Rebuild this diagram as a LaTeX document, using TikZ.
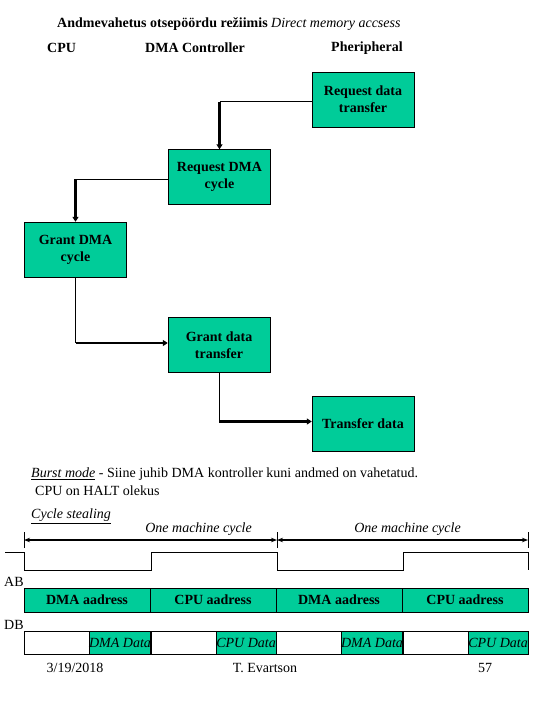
\documentclass[tikz,border=0pt]{standalone}
\usepackage{fontspec}
\setmainfont{Liberation Serif}
\usetikzlibrary{arrows.meta}
\definecolor{dmagreen}{RGB}{0,204,153}

\begin{document}
\begin{tikzpicture}[
    x=1pt, y=-1pt,
    font=\fontsize{14}{16}\selectfont,
    box/.style={draw, fill=dmagreen, minimum width=102pt, minimum height=55pt,
      align=center, inner sep=2pt, font=\fontsize{14}{17}\selectfont\bfseries},
    lbl/.style={inner sep=0pt, anchor=west},
    ln/.style={line width=0.8pt},
    arr/.style={line width=2.2pt, -{Triangle[length=5pt,width=6pt]}},
    dim/.style={line width=2pt, {Stealth[length=6pt]}-{Stealth[length=6pt]}},
    cyc/.style={above=3pt, inner sep=0pt, font=\fontsize{14}{16}\selectfont\itshape},
    abseg/.style={draw, fill=dmagreen, line width=0.7pt, minimum width=126pt,
      minimum height=24pt, inner sep=0pt, font=\fontsize{14}{16}\selectfont\bfseries},
    dbseg/.style={draw, line width=0.7pt, minimum height=23pt, inner sep=0pt},
  ]
  \useasboundingbox (0,0) rectangle (540,720);

  % headings
  \node[lbl, font=\fontsize{14}{16}\selectfont\bfseries] (title) at (57,24)
    {Andmevahetus otsepöördu režiimis {\mdseries\itshape Direct memory accsess}};
  \node[lbl, font=\fontsize{14}{16}\selectfont\bfseries] (cpu) at (47,48) {CPU};
  \node[lbl, font=\fontsize{14}{16}\selectfont\bfseries] (ctrl) at (145,48) {DMA Controller};
  \node[lbl, font=\fontsize{14}{16}\selectfont\bfseries] (per) at (331,48) {Pheripheral};

  % flow boxes
  \node[box] (rdt) at (363,99.5) {Request data\\transfer};
  \node[box] (rdc) at (219.5,177) {Request DMA\\cycle};
  \node[box] (gdc) at (75.5,249.5) {Grant DMA\\cycle};
  \node[box] (gdt) at (219,345) {Grant data\\transfer};
  \node[box] (tdx) at (363,423.5) {Transfer data};

  \coordinate (k1) at ([yshift=-2pt]rdt.west -| rdc.north);
  \coordinate (k2) at ([yshift=-2pt]rdc.west -| gdc.north);
  \coordinate (k3) at ([yshift=2pt]gdc.south |- gdt.west);
  \coordinate (k4) at ([yshift=2pt]gdt.south |- tdx.west);
  \draw[ln] ([yshift=-2pt]rdt.west) -- (k1);
  \draw[arr] (k1) -- (rdc.north);
  \draw[ln] ([yshift=-2pt]rdc.west) -- (k2);
  \draw[arr] (k2) -- (gdc.north);
  \draw[ln] (gdc.south) -- (k3);
  \draw[arr] (k3) -- (k3 -| gdt.west);
  \draw[ln] (gdt.south) -- (k4);
  \draw[arr] (k4) -- (k4 -| tdx.west);

  % modes
  \node[lbl] (burst1) at (31,474)
    {\underline{\itshape Burst mode} - Siine juhib DMA kontroller kuni andmed on vahetatud.};
  \node[lbl] (burst2) at (35,491) {CPU on HALT olekus};
  \node[lbl] (steal) at (31,516) {\underline{\itshape Cycle stealing}};

  % machine cycles
  \coordinate (c0) at (24,540);
  \coordinate (c1) at (277,540);
  \coordinate (c2) at (528,540);
  \foreach \c in {c0,c1,c2}
    \draw[ln] ([yshift=-8pt]\c) -- ([yshift=8pt]\c);
  \draw[dim] (c0) -- node[cyc, pos=.69] {One machine cycle} (c1);
  \draw[dim] (c1) -- node[cyc, pos=.52] {One machine cycle} (c2);

  % clock
  \draw[ln] (5,552) -- (24,552) -- (24,570) -- (151,570) -- (151,552) -- (277,552)
    -- (277,570) -- (403,570) -- (403,552) -- (528,552) -- (528,570);

  % buses
  \node[lbl] (ab) at (4,582) {AB};
  \node[lbl] (db) at (4,625) {DB};
  \foreach \i/\who in {0/DMA,1/CPU,2/DMA,3/CPU} {
    \node[abseg] (ab\i) at ({24+126*\i+63},600) {\who\ aadress};
    \node[dbseg, minimum width=66pt] (dbw\i) at ({24+126*\i+33},642.5) {};
    \node[dbseg, minimum width=60pt, fill=dmagreen, font=\fontsize{14}{16}\selectfont\itshape]
      (dbg\i) at ({24+126*\i+96},642.5) {\who\ Data};
  }

  % footer
  \node (date) at (75,668) {3/19/2018};
  \node (auth) at (265,668) {T. Evartson};
  \node (page) at (485,668) {57};
\end{tikzpicture}
\end{document}
